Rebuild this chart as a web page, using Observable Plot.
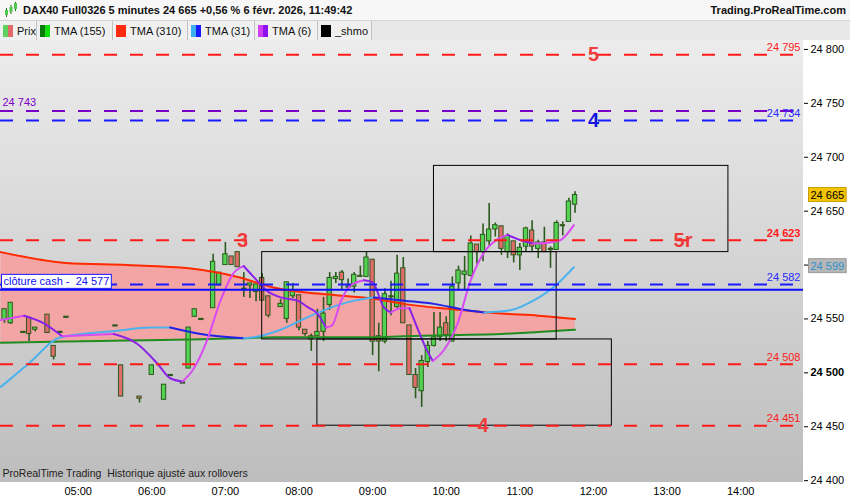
<!DOCTYPE html>
<html>
<head>
<meta charset="utf-8">
<script src="https://cdn.jsdelivr.net/npm/d3@7"></script>
<script src="https://cdn.jsdelivr.net/npm/@observablehq/plot@0.6"></script>
<style>
  body { margin: 0; background: #fff; width: 850px; overflow: hidden; font-family: "Liberation Sans", Arial, sans-serif; color: #111; }
  #hdr { height: 20px; display: flex; align-items: center; justify-content: space-between; background: #f7f7f7; font-weight: bold; font-size: 11px; padding: 0 4px 0 4px; box-sizing: border-box; }
  #hdr .l { display: flex; align-items: center; gap: 5px; }
  #leg { height: 20px; display: flex; background: #e8e8e8; border-top: 1px solid #d4d4d4; box-sizing: border-box; font-size: 11px; }
  .it { display: flex; align-items: center; padding: 0 0 0 3px; border-right: 1px solid #c2c2c2; background: #f0f0f0; box-sizing: border-box; }
  .sw { width: 10px; height: 12px; margin-right: 4px; display: flex; }
  .sw i { flex: 1; }
</style>
</head>
<body>
<div id="hdr">
  <div class="l">
    <svg width="14" height="16"><line x1="2.5" y1="6" x2="2.5" y2="15" stroke="#2e6a1e"/><rect x="1" y="8" width="3" height="5" fill="#4cc94c"/><line x1="7" y1="3" x2="7" y2="12" stroke="#2e6a1e"/><rect x="5.5" y="5" width="3" height="5" fill="#4cc94c"/><line x1="11.5" y1="0" x2="11.5" y2="9" stroke="#2e6a1e"/><rect x="10" y="1" width="3" height="6" fill="#4cc94c"/></svg>
    <span>DAX40 Full0326 5 minutes 24 665 +0,56 % 6 févr. 2026, 11:49:42</span>
  </div>
  <span>Trading.ProRealTime.com</span>
</div>
<div id="leg">
  <div class="it" style="width:37px"><span class="sw"><i style="background:#5cd35c"></i><i style="background:#e06a6a"></i></span>Prix</div>
  <div class="it" style="width:76px"><span class="sw"><i style="background:#0a7a0a"></i><i style="background:#10e010"></i></span>TMA (155)</div>
  <div class="it" style="width:75px"><span class="sw"><i style="background:#ff2a10"></i><i style="background:#ff2a10"></i></span>TMA (310)</div>
  <div class="it" style="width:67px"><span class="sw"><i style="background:#3ab0f0"></i><i style="background:#1a1aff"></i></span>TMA (31)</div>
  <div class="it" style="width:63px"><span class="sw"><i style="background:#d040f0"></i><i style="background:#9010f0"></i></span>TMA (6)</div>
  <div class="it" style="width:54px"><span class="sw"><i style="background:#000"></i><i style="background:#000"></i></span>_shmo</div>
</div>
<div id="chart"></div>
<script>
// bougies 5 minutes (minutes depuis minuit)
const barTimes = [240,245,255,260,265,275,280,285,290,330,335,350,360,370,375,385,390,395,400,
  410,415,420,425,430,435,440,445,450,455,
  465,470,475,480,485,490,495,500,505,510,515,520,525,530,535,540,545,550,555,560,565,570,575,580,585,
  590,595,600,605,610,615,620,625,630,635,640,645,650,655,660,665,670,675,680,685,690,695,700,705]
const opens  = [24549,24546,24538,24551,24540,24554,24525,24538,24552,24544,24507,24478,24498,24475,24498,24491,24504,24552,24550,
  24560,24581,24600,24608,24612,24578,24581,24575,24588,24571,
  24561,24550,24571,24572,24540,24534,24534,24538,24563,24587,24593,24580,24580,24590,24589,24605,24534,24529,24571,24561,24597,24544,24498,24483,24510,
  24525,24533,24546,24529,24583,24591,24590,24619,24612,24622,24633,24636,24612,24622,24609,24617,24632,24615,24621,24615,24614,24637,24640,24656]
const highs  = [24559,24565,24538,24552,24542,24554,24525,24538,24552,24544,24507,24478,24507,24489,24498,24491,24542,24559,24550,
  24610,24593,24621,24608,24612,24593,24583,24582,24592,24571,
  24568,24584,24583,24572,24540,24536,24559,24570,24593,24593,24595,24587,24593,24599,24612,24605,24546,24578,24585,24609,24607,24544,24504,24516,24529,
  24556,24556,24552,24589,24599,24608,24627,24619,24638,24657,24639,24636,24629,24622,24620,24635,24641,24623,24635,24617,24641,24640,24662,24668]
const lows   = [24546,24545,24538,24529,24538,24537,24512,24538,24552,24544,24478,24472,24498,24475,24498,24491,24504,24552,24550,
  24560,24581,24600,24600,24598,24570,24569,24566,24567,24551,
  24561,24546,24569,24539,24534,24520,24534,24529,24558,24583,24577,24577,24574,24589,24589,24516,24501,24527,24553,24560,24546,24498,24476,24468,24505,
  24524,24529,24529,24529,24576,24576,24589,24601,24603,24618,24626,24609,24606,24602,24595,24612,24612,24606,24612,24597,24614,24627,24640,24648]
const closes = [24559,24565,24538,24536,24542,24537,24515,24538,24552,24544,24478,24476,24507,24489,24498,24491,24542,24559,24550,
  24603,24593,24610,24600,24598,24578,24583,24582,24567,24553,
  24564,24584,24576,24542,24536,24531,24538,24555,24588,24589,24586,24580,24591,24589,24607,24529,24529,24573,24571,24592,24546,24498,24486,24511,24525,
  24533,24542,24535,24580,24595,24594,24620,24612,24628,24633,24637,24615,24627,24609,24616,24634,24617,24621,24612,24615,24639,24636,24659,24665]

// moyennes TMA (155) et TMA (310)
const maTimes = [237,290,340,390,430,460,510,540,565,605,645,675,705]
const tma310  = [24612,24602,24600,24597,24589,24579,24572,24569,24564,24559,24555,24553,24550]
const tma155  = [24528,24529,24530,24531,24532,24533,24533,24533,24534,24535,24536,24538,24540]

// TMA (31)
const tma31Times = [237,259,286,332,359,375,400,435,443,465,484,500,525,541,566,590,617,631,652,671,691,704]
const tma31      = [24487,24508,24533,24539,24542,24542,24536,24532,24533,24540,24550,24558,24567,24570,24567,24564,24558,24556,24558,24567,24583,24598]

// TMA (6)
const tma6Times = [237,256,272,287,329,348,365,375,385,393,405,416,427,435,443,454,465,479,487,495,502,507,514,522,533,540,549,555,563,570,576,583,589,598,609,620,631,642,650,661,671,685,693,704]
const tma6      = [24549,24553,24546,24534,24536,24527,24508,24495,24492,24502,24530,24567,24593,24599,24589,24576,24570,24567,24561,24555,24542,24544,24566,24581,24586,24584,24561,24556,24560,24560,24543,24524,24511,24521,24545,24586,24612,24624,24628,24623,24620,24621,24623,24637]

// niveaux horizontaux
const levelValues = [24795,24743,24734,24623,24582,24508,24451]
const cashLevel = 24577
const lastPrice = 24665
const lastTma31 = 24599

// rectangles
const boxStart = [590,450,495]
const boxEnd   = [830,690,735]
const boxLow   = [24612,24531,24451]
const boxHigh  = [24692,24612,24531]

// repères
const markTexts  = ["5","4","3","5r","4"]
const markTimes  = [720,720,434,793,630]
const markLevels = [24795,24734,24623,24623,24451]

const hourTicks = d3.range(300, 841, 60)
const priceTicks = d3.range(24400, 24801, 50)

// styles
const levelColors = ["#ff1a1a","#7a00c8","#1a1aff","#ff1a1a","#1a1aff","#ff1a1a","#ff1a1a"]
const markColors  = ["#ef3b3b","#1414e0","#ef3b3b","#ef3b3b","#ef3b3b"]
const X0 = 236.7, X1 = 891.2

const fmtPrice = v => d3.format(",")(v).replace(/,/g, " ")
const fmtHour = m => String(m / 60).padStart(2, "0") + ":00"

const candles = barTimes.map((t, i) => ({t, o: opens[i], h: highs[i], l: lows[i], c: closes[i]}))
const bodies = candles.filter(d => d.o !== d.c)
const dojis = candles.filter(d => d.o === d.c)
const maRows = maTimes.map((t, i) => ({t, r: tma310[i], g: tma155[i]}))
const levels = levelValues.map((v, i) => ({v, color: levelColors[i]}))
const boxes = boxStart.map((s, i) => ({s, e: boxEnd[i], lo: boxLow[i], hi: boxHigh[i]}))
const marksLbl = markTexts.map((s, i) => ({s, t: markTimes[i], v: markLevels[i], color: markColors[i]}))
const rightLbl = levels.filter(d => d.v !== 24743)

// segments colorés selon la pente (montée / baisse)
function runs(ts, vs, up, down) {
  const out = []
  let id = 0, prev = null
  for (let i = 0; i < ts.length - 1; i++) {
    const dir = vs[i + 1] >= vs[i]
    const color = dir ? up : down
    if (dir !== prev) { id++; out.push({t: ts[i], v: vs[i], run: id, color}) }
    out.push({t: ts[i + 1], v: vs[i + 1], run: id, color})
    prev = dir
  }
  return out
}

const wick = "#2b5a1c"
const lblFill = d => d.color === "#1a1aff" ? "#2a2aff" : "#ff2020"
let chart = Plot.plot({
  width: 850,
  height: 460,
  marginLeft: 0,
  marginRight: 47,
  marginTop: 0,
  marginBottom: 18,
  style: {fontFamily: "'Liberation Sans', Arial, sans-serif", fontSize: "11px", color: "#000"},
  color: {type: "identity"},
  x: {domain: [X0, X1], ticks: hourTicks, tickFormat: fmtHour, tickSize: 0, tickPadding: 5, label: null},
  y: {domain: [24398.3, 24808.3], axis: "right", ticks: priceTicks, tickFormat: fmtPrice, tickSize: 4, tickPadding: 3, label: null},
  marks: [
    Plot.areaY(maRows, {x: "t", y1: "g", y2: "r", fill: "#f3a5a5", curve: "monotone-x"}),
    Plot.ruleX(candles, {x: "t", y1: "l", y2: "h", stroke: wick, strokeWidth: 1.6}),
    Plot.rect(bodies, {x1: d => d.t - 1.75, x2: d => d.t + 1.75, y1: "o", y2: "c",
      fill: d => d.c > d.o ? "#52d452" : "#e06c6c", stroke: wick, strokeWidth: 1}),
    Plot.link(dojis, {x1: d => d.t - 2.2, x2: d => d.t + 2.2, y1: "o", y2: "o", stroke: wick, strokeWidth: 2.2}),
    Plot.line(maRows, {x: "t", y: "r", stroke: "#ff2a00", strokeWidth: 2, curve: "monotone-x"}),
    Plot.line(maRows, {x: "t", y: "g", stroke: "#1f8c1f", strokeWidth: 2, curve: "monotone-x"}),
    Plot.line(runs(tma31Times, tma31, "#4cb2ee", "#2222e6"), {x: "t", y: "v", z: "run", stroke: "color", strokeWidth: 2, curve: "monotone-x"}),
    Plot.line(runs(tma6Times, tma6, "#d84af2", "#8a22e8"), {x: "t", y: "v", z: "run", stroke: "color", strokeWidth: 2, curve: "monotone-x"}),
    Plot.rect(boxes, {x1: "s", x2: "e", y1: "lo", y2: "hi", fill: "none", stroke: "#000", strokeWidth: 1}),
    Plot.ruleY(levels, {y: "v", stroke: "color", strokeWidth: 2, strokeDasharray: "13,13"}),
    Plot.ruleY([cashLevel], {stroke: "#0a0aff", strokeWidth: 2}),
    // étiquettes de niveaux à droite
    Plot.text(rightLbl.filter(d => d.v !== 24623), {x: () => X1, y: "v", text: d => fmtPrice(d.v),
      fill: lblFill, textAnchor: "end", dx: -3, dy: -7, fontSize: 11}),
    Plot.text(rightLbl.filter(d => d.v === 24623), {x: () => X1, y: "v", text: d => fmtPrice(d.v),
      fill: lblFill, fontWeight: "bold", textAnchor: "end", dx: -3, dy: -7, fontSize: 11}),
    Plot.text(levels.filter(d => d.v === 24743), {x: () => X0, y: "v", text: d => fmtPrice(d.v),
      fill: "#7a00c8", textAnchor: "start", dx: 2, dy: -8, fontSize: 11}),
    Plot.text([cashLevel], {x: () => X0, y: d => d, text: d => "clôture cash -\u00a0 " + fmtPrice(d),
      fill: "#1010ee", textAnchor: "start", dx: 3, dy: -8, fontSize: 11}),
    Plot.text(marksLbl, {x: "t", y: "v", text: "s", fill: "color", fontSize: 20, fontWeight: "bold"}),
    // prix courant et TMA(31) sur l'axe
    Plot.text([lastPrice], {x: () => X1, y: d => d, text: fmtPrice, fill: "#000", textAnchor: "start", dx: 7, fontSize: 11}),
    Plot.text([lastTma31], {x: () => X1, y: d => d, text: fmtPrice, fill: "#2f93cf", textAnchor: "start", dx: 7, fontSize: 11}),
    Plot.text(["ProRealTime Trading  Historique ajusté aux rollovers"], {frameAnchor: "bottom-left", dx: 2, dy: -6,
      text: d => d.replace("  ", "\u00a0 "), fill: "#222", fontSize: 10.5})
  ]
})
chart.style.background = "linear-gradient(#ececec, #bdbdbd) 0 0 / 803px 442px no-repeat"
d3.select('#chart').append(() => chart)

// fonds des étiquettes encadrées
function boxText(test, fill, stroke) {
  d3.select(chart).selectAll("text").filter(function () { return test(this.textContent) }).each(function () {
    const b = this.getBBox()
    const r = document.createElementNS("http://www.w3.org/2000/svg", "rect")
    r.setAttribute("x", b.x - 2); r.setAttribute("y", b.y - 1)
    r.setAttribute("width", b.width + 4); r.setAttribute("height", b.height + 2)
    r.setAttribute("fill", fill); r.setAttribute("stroke", stroke)
    const tr = this.getAttribute("transform")
    if (tr) r.setAttribute("transform", tr)
    this.parentNode.insertBefore(r, this)
  })
}
boxText(s => s.startsWith("clôture"), "#ffffff", "#1a1aff")
boxText(s => s === fmtPrice(lastPrice), "#f2c300", "#c8a000")
boxText(s => s === fmtPrice(lastTma31), "#b6b6b6", "#9a9a9a")
d3.select(chart).selectAll("text").filter(function () { return this.textContent === "24 500" }).style("font-weight", "bold")
</script>
</body>
</html>
